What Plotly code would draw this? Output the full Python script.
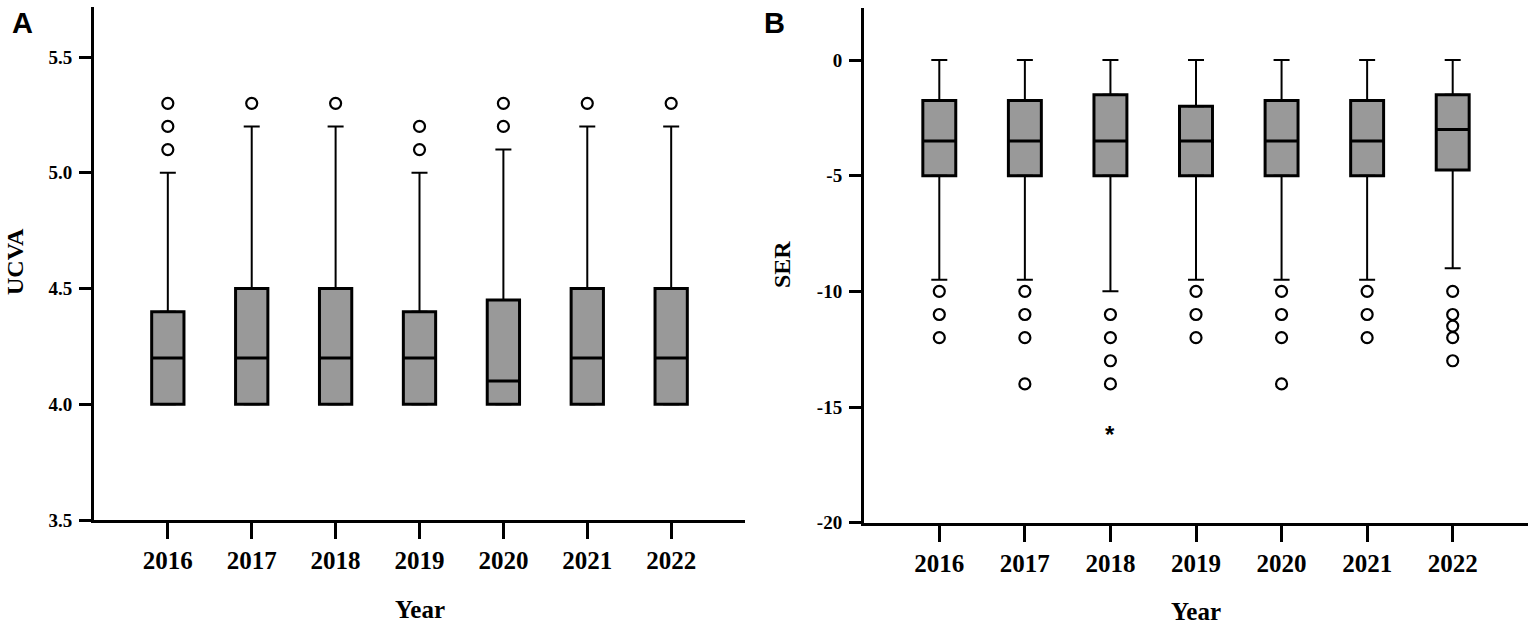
import plotly.graph_objects as go

# ---------------- data ----------------
years = ["2016", "2017", "2018", "2019", "2020", "2021", "2022"]

# Panel A : UCVA
ucva_lowerfence = [4.0, 4.0, 4.0, 4.0, 4.0, 4.0, 4.0]
ucva_q1 = [4.0, 4.0, 4.0, 4.0, 4.0, 4.0, 4.0]
ucva_median = [4.2, 4.2, 4.2, 4.2, 4.1, 4.2, 4.2]
ucva_q3 = [4.4, 4.5, 4.5, 4.4, 4.45, 4.5, 4.5]
ucva_upperfence = [5.0, 5.2, 5.2, 5.0, 5.1, 5.2, 5.2]
ucva_outlier_year = ["2016", "2016", "2016", "2017", "2018", "2019", "2019",
                     "2020", "2020", "2021", "2022"]
ucva_outlier_value = [5.1, 5.2, 5.3, 5.3, 5.3, 5.1, 5.2, 5.2, 5.3, 5.3, 5.3]

# Panel B : SER
ser_lowerfence = [-9.5, -9.5, -10.0, -9.5, -9.5, -9.5, -9.0]
ser_q1 = [-5.0, -5.0, -5.0, -5.0, -5.0, -5.0, -4.75]
ser_median = [-3.5, -3.5, -3.5, -3.5, -3.5, -3.5, -3.0]
ser_q3 = [-1.75, -1.75, -1.5, -2.0, -1.75, -1.75, -1.5]
ser_upperfence = [0.0, 0.0, 0.0, 0.0, 0.0, 0.0, 0.0]
ser_outlier_year = ["2016", "2016", "2016",
                    "2017", "2017", "2017", "2017",
                    "2018", "2018", "2018", "2018",
                    "2019", "2019", "2019",
                    "2020", "2020", "2020", "2020",
                    "2021", "2021", "2021",
                    "2022", "2022", "2022", "2022", "2022"]
ser_outlier_value = [-10, -11, -12,
                     -10, -11, -12, -14,
                     -11, -12, -13, -14,
                     -10, -11, -12,
                     -10, -11, -12, -14,
                     -10, -11, -12,
                     -10, -11, -11.5, -12, -13]
ser_extreme_year = ["2018"]
ser_extreme_value = [-16]

ucva_tickvals = [3.5, 4.0, 4.5, 5.0, 5.5]
ucva_ticktext = ["3.5", "4.0", "4.5", "5.0", "5.5"]
ser_tickvals = [-20, -15, -10, -5, 0]
ser_ticktext = ["-20", "-15", "-10", "-5", "0"]

# ---------------- geometry (page pixels -> paper) ----------------
W, H = 1535, 628


def px(x):
    return x / W


def py(y):
    return 1 - y / H


SERIF = "Liberation Serif, Times New Roman, serif"
SANS = "Liberation Sans, Arial, sans-serif"
BOX_FILL = "#999999"

fig = go.Figure()


def add_boxes(xa, ya, q1, med, q3):
    fig.add_trace(go.Box(
        x=years, q1=q1, median=med, q3=q3, lowerfence=q1, upperfence=q3,
        width=0.385, whiskerwidth=0, fillcolor=BOX_FILL,
        line=dict(color="black", width=3), boxpoints=False,
        xaxis=xa, yaxis=ya, showlegend=False, hoverinfo="skip"))


def add_whiskers(xa, ya, q1, q3, lf, uf, out_x, out_y):
    fig.add_trace(go.Scatter(
        x=years, y=q3, mode="markers", marker=dict(size=1, opacity=0),
        error_y=dict(type="data", symmetric=False,
                     array=[u - q for u, q in zip(uf, q3)],
                     arrayminus=[0] * len(q3),
                     color="black", thickness=2, width=8),
        xaxis=xa, yaxis=ya, showlegend=False, hoverinfo="skip"))
    fig.add_trace(go.Scatter(
        x=years, y=q1, mode="markers", marker=dict(size=1, opacity=0),
        error_y=dict(type="data", symmetric=False,
                     array=[0] * len(q1),
                     arrayminus=[q - l for q, l in zip(q1, lf)],
                     color="black", thickness=2, width=8),
        xaxis=xa, yaxis=ya, showlegend=False, hoverinfo="skip"))
    fig.add_trace(go.Scatter(
        x=out_x, y=out_y, mode="markers",
        marker=dict(symbol="circle-open", size=11, color="black",
                    line=dict(width=2.2, color="black")),
        xaxis=xa, yaxis=ya, showlegend=False))


add_boxes("x", "y", ucva_q1, ucva_median, ucva_q3)
add_boxes("x2", "y2", ser_q1, ser_median, ser_q3)
add_whiskers("x", "y", ucva_q1, ucva_q3, ucva_lowerfence, ucva_upperfence,
             ucva_outlier_year, ucva_outlier_value)
add_whiskers("x2", "y2", ser_q1, ser_q3, ser_lowerfence, ser_upperfence,
             ser_outlier_year, ser_outlier_value)

axis_common = dict(showline=True, linewidth=3, linecolor="black",
                   ticks="outside", tickwidth=3, tickcolor="black",
                   showgrid=False, zeroline=False, fixedrange=True,
                   automargin=False)
xfont = dict(family=SERIF, size=25, color="black", weight="bold")
yfont = dict(family=SERIF, size=19, color="black", weight="bold")

fig.update_layout(
    width=W, height=H, autosize=False,
    margin=dict(l=0, r=0, t=0, b=0, pad=0, autoexpand=False),
    paper_bgcolor="white", plot_bgcolor="white",
    showlegend=False,
    font=dict(family=SERIF, color="black"),
    xaxis=dict(domain=[px(94), px(745)], type="category",
               range=[-0.88, 6.88], ticklen=16, tickfont=xfont,
               anchor="y", **axis_common),
    yaxis=dict(domain=[py(520), py(7)], range=[3.5, 3.5 + (520 - 7) / 231.5],
               tickvals=ucva_tickvals, ticktext=ucva_ticktext,
               ticklen=12, ticklabelstandoff=3, tickfont=yfont, anchor="x",
               **axis_common),
    xaxis2=dict(domain=[px(864), px(1528)], type="category",
                range=[-0.88, 6.88], ticklen=16, tickfont=xfont,
                anchor="y2", **axis_common),
    yaxis2=dict(domain=[py(522.7), py(8)], range=[-20, 2.25],
                tickvals=ser_tickvals, ticktext=ser_ticktext,
                ticklen=12, ticklabelstandoff=3, tickfont=yfont, anchor="x2",
                **axis_common),
)

title_font = dict(family=SERIF, size=25, color="black", weight="bold")
panel_font = dict(family=SANS, size=29, color="black", weight="bold")
ytitle_font = dict(family=SERIF, size=24, color="black", weight="bold")

annotations = [
    dict(text="A", x=px(10), y=py(23), xref="paper", yref="paper",
         xanchor="left", yanchor="middle", showarrow=False, font=panel_font),
    dict(text="B", x=px(762), y=py(23), xref="paper", yref="paper",
         xanchor="left", yanchor="middle", showarrow=False, font=panel_font),
    dict(text="UCVA", x=px(15), y=py(262), xref="paper", yref="paper",
         xanchor="center", yanchor="middle", textangle=-90, showarrow=False,
         font=ytitle_font),
    dict(text="SER", x=px(782), y=py(265), xref="paper", yref="paper",
         xanchor="center", yanchor="middle", textangle=-90, showarrow=False,
         font=ytitle_font),
    dict(text="Year", x=px(420), y=py(609), xref="paper", yref="paper",
         xanchor="center", yanchor="middle", showarrow=False, font=title_font),
    dict(text="Year", x=px(1196), y=py(611), xref="paper", yref="paper",
         xanchor="center", yanchor="middle", showarrow=False, font=title_font),
]
for yr, val in zip(ser_extreme_year, ser_extreme_value):
    annotations.append(dict(text="*", x=years.index(yr), y=val,
                            xref="x2", yref="y2",
                            xanchor="center", yanchor="middle", yshift=-4,
                            showarrow=False,
                            font=dict(family=SANS, size=24, color="black",
                                      weight="bold")))
fig.update_layout(annotations=annotations)

# the page's default 8px body margin would push the 1535x628 figure off-screen
fig.write_html("out.html", config={"displayModeBar": False},
               post_script="document.body.style.margin='0px';")
